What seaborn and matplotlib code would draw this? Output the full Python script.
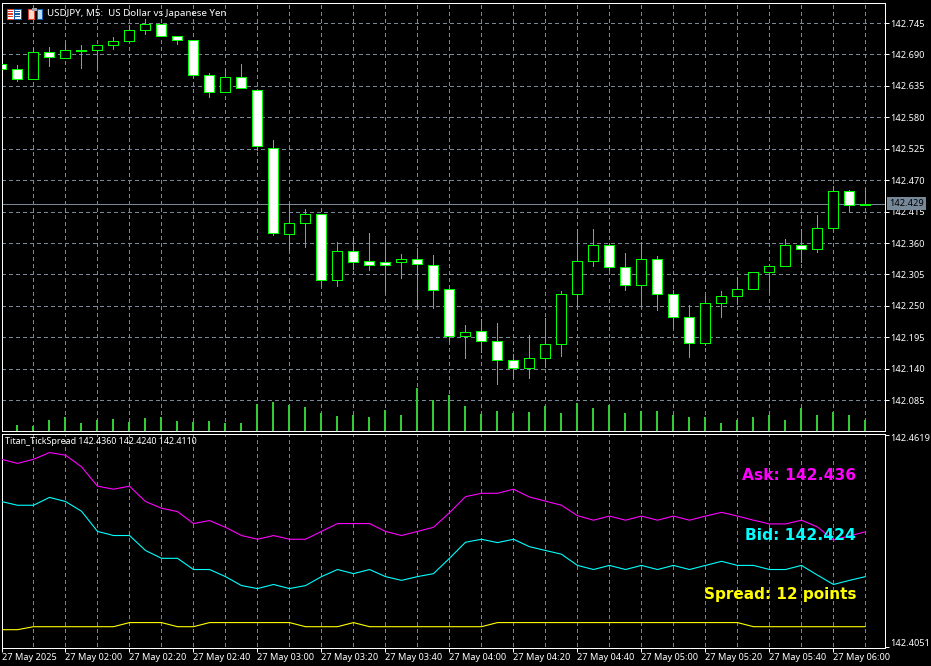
import numpy as np
import matplotlib
matplotlib.use("Agg")
import matplotlib.pyplot as plt
from matplotlib.patches import Rectangle
from matplotlib.transforms import ScaledTranslation
import seaborn as sns

# ---------- data ----------
open_ = [142.674,142.664,142.647,142.694,142.683,142.696,142.697,142.706,142.713,142.732,142.743,142.722,142.715,142.654,142.624,142.650,
         142.627,142.527,142.376,142.395,142.410,142.296,142.346,142.328,142.326,142.326,142.332,142.321,142.279,142.198,142.206,142.188,
         142.155,142.142,142.158,142.183,142.270,142.328,142.356,142.318,142.286,142.332,142.270,142.230,142.185,142.255,142.268,142.279,
         142.309,142.319,142.356,142.349,142.386,142.451,142.426]
high = [142.674,142.672,142.701,142.703,142.708,142.706,142.706,142.720,142.742,142.752,142.743,142.722,142.715,142.658,142.664,142.673,
        142.627,142.540,142.430,142.420,142.410,142.361,142.368,142.378,142.365,142.341,142.351,142.339,142.279,142.217,142.227,142.220,
        142.165,142.199,142.228,142.276,142.385,142.385,142.360,142.342,142.361,142.337,142.277,142.252,142.267,142.276,142.300,142.309,
        142.322,142.367,142.385,142.409,142.460,142.453,142.456]
low = [142.664,142.644,142.647,142.670,142.683,142.667,142.664,142.700,142.713,142.726,142.722,142.708,142.649,142.616,142.624,142.631,
       142.522,142.374,142.347,142.353,142.284,142.284,142.315,142.312,142.274,142.298,142.249,142.247,142.190,142.158,142.169,142.113,
       142.123,142.123,142.143,142.163,142.252,142.320,142.313,142.278,142.249,142.243,142.211,142.161,142.181,142.231,142.253,142.279,
       142.274,142.319,142.326,142.345,142.386,142.416,142.426]
close = [142.664,142.647,142.694,142.685,142.697,142.697,142.706,142.713,142.732,142.743,142.722,142.715,142.654,142.624,142.650,142.631,
         142.529,142.377,142.395,142.410,142.296,142.346,142.327,142.322,142.322,142.332,142.324,142.278,142.198,142.204,142.188,142.155,
         142.142,142.158,142.183,142.270,142.328,142.356,142.318,142.286,142.332,142.270,142.230,142.185,142.255,142.267,142.279,142.309,
         142.319,142.356,142.349,142.386,142.451,142.426,142.429]
tick_volume = [0,60,50,110,140,80,110,120,90,130,140,100,90,100,80,80,
               270,290,260,240,180,150,160,140,210,160,430,310,360,250,170,200,
               180,190,250,180,280,230,260,180,200,200,160,140,140,80,110,140,
               160,110,230,160,190,160,110]
ask = [142.4554,142.4543,142.4554,142.4572,142.4565,142.4534,142.4482,142.4474,142.4482,142.4441,142.4423,142.4414,142.4382,142.4390,142.4372,142.4350,
       142.4340,142.4350,142.4340,142.4340,142.4361,142.4382,142.4382,142.4382,142.4361,142.4350,142.4361,142.4372,142.4411,
       142.4454,142.4463,142.4463,142.4474,142.4453,142.4442,142.4431,142.4403,142.4391,142.4402,142.4391,142.4402,142.4391,142.4402,142.4391,142.4402,
       142.4412,142.4402,142.4391,142.4381,142.4381,142.4391,142.4373,142.4338,142.4349,142.4360]
bid = [142.4441,142.4431,142.4431,142.4452,142.4441,142.4415,142.4361,142.4350,142.4350,142.4310,142.4289,142.4289,142.4259,142.4259,142.4240,142.4216,
       142.4208,142.4219,142.4208,142.4216,142.4240,142.4259,142.4248,142.4259,142.4240,142.4230,142.4240,142.4248,142.4289,
       142.4332,142.4340,142.4331,142.4340,142.4320,142.4310,142.4300,142.4270,142.4259,142.4270,142.4259,142.4270,142.4259,142.4270,142.4259,142.4270,
       142.4281,142.4270,142.4270,142.4259,142.4259,142.4270,142.4244,142.4219,142.4230,142.4240]
spread_line = [142.4098,142.4098,142.4106,142.4106,142.4106,142.4106,142.4106,142.4106,142.4117,142.4117,142.4117,142.4106,142.4106,
               142.4117,142.4117,142.4117,142.4117,142.4117,142.4117,142.4106,142.4106,142.4106,142.4117,142.4106,142.4106,142.4106,
               142.4106,142.4106,142.4106,142.4106,142.4106,142.4117,142.4117,142.4117,142.4117,142.4117,142.4117,142.4117,142.4117,
               142.4117,142.4117,142.4117,142.4117,142.4117,142.4117,142.4117,142.4117,142.4106,142.4106,142.4106,142.4106,142.4106,
               142.4106,142.4106,142.4106]
price_ticks = [142.085,142.140,142.195,142.250,142.305,142.360,142.415,142.470,142.525,142.580,142.635,142.690,142.745]
time_tick_bars = [0,4,8,12,16,20,24,28,32,36,40,44,48,52]
time_labels = ["27 May 2025","27 May 02:00","27 May 02:20","27 May 02:40","27 May 03:00","27 May 03:20","27 May 03:40",
               "27 May 04:00","27 May 04:20","27 May 04:40","27 May 05:00","27 May 05:20","27 May 05:40","27 May 06:00"]
last_price = 142.429
sub_ticks = [142.4051,142.4619]

# ---------- style ----------
W, H = 931, 666
PX = 0.72  # one pixel in points at dpi 100
GRID = "#778899"
LIME = "#00ff00"
sns.set_theme(style="dark", rc={"axes.facecolor": "black", "figure.facecolor": "black",
                                "axes.edgecolor": "white", "text.color": "white",
                                "xtick.color": "white", "ytick.color": "white",
                                "lines.linewidth": PX,
                                "lines.antialiased": False, "patch.antialiased": False})
plt.rcParams["font.family"] = ["Noto Sans", "DejaVu Sans"]
SMALL = 6.6

fig = plt.figure(figsize=(W / 100, H / 100), dpi=100)

def axes_px(x0, y0, x1, y1):
    return fig.add_axes([x0 / W, 1 - y1 / H, (x1 - x0) / W, (y1 - y0) / H])

ax = axes_px(1.5, 2.5, 885, 431)
ax2 = axes_px(1.5, 433.5, 885, 648)

bars = np.arange(len(close))
o, h, l, c = map(np.array, (open_, high, low, close))
xlim = (0.0125, 55.22)

# ---------- top panel ----------
ax.set_axisbelow(True)
ax.hlines(price_ticks, *xlim, color=GRID, lw=PX, linestyles=(0, (3, 3)), zorder=1)
ax.vlines(bars[2::2], 142.0, 143.0, color=GRID, lw=PX, linestyles=(0, (3, 3)), zorder=1)
ax.axhline(last_price, color=GRID, lw=PX, zorder=1.5)
ax.vlines(bars, l, h, color=LIME, lw=PX, zorder=2)
fills = np.where(c >= o, "black", "white")
ax.bar(bars, np.maximum(np.abs(c - o), 0.0006), bottom=np.minimum(o, c), width=0.625,
       color=fills, edgecolor=LIME, linewidth=PX * 1.0, zorder=3)

vol_ax = ax.twinx()
sns.barplot(x=bars - 0.03, y=tick_volume, native_scale=True, width=0.14, color="#32cd32",
            saturation=1, linewidth=0, ax=vol_ax)
vol_ax.set_ylim(0, 4285)
vol_ax.set_yticks([])
vol_ax.set_ylabel("")
vol_ax.grid(False)

ax.set_xlim(*xlim)
vol_ax.set_xlim(*xlim)
ax.set_ylim(142.031, 142.7809)
ax.set_xticks([])
ax.yaxis.tick_right()
ax.set_yticks(price_ticks)
ax.set_yticklabels([f"{v:.3f}" for v in price_ticks], fontsize=SMALL)
ax.tick_params(axis="y", length=2.9, width=PX, pad=1.0, color="white", right=True, left=False)
ax.grid(False)

# current price flag
ax.text(1.0046, last_price, f"{last_price:.3f}", transform=ax.get_yaxis_transform(), color="black",
        fontsize=SMALL, va="center", ha="left", zorder=10, clip_on=False,
        bbox=dict(boxstyle="square,pad=0.25", fc=GRID, ec=GRID, lw=0))

# ---------- bottom panel ----------
ax2.vlines(bars[2::2], 142.3, 142.5, color="#808080", lw=PX, linestyles=(0, (3, 3)), zorder=1)
sns.lineplot(x=bars, y=ask, color="#ff00ff", ax=ax2, zorder=3, errorbar=None)
sns.lineplot(x=bars, y=bid, color="#00ffff", ax=ax2, zorder=3, errorbar=None)
sns.lineplot(x=bars, y=spread_line, color="#ffff00", ax=ax2, zorder=3, errorbar=None)
for line in ax2.get_lines():
    line.set_linewidth(0.8)
    line.set_antialiased(True)
ax2.set_xlim(*xlim)
ax2.set_ylim(142.4049, 142.4623)
ax2.set_ylabel("")
ax2.yaxis.tick_right()
ax2.set_yticks(sub_ticks)
ax2.set_yticklabels([f"{v:.4f}" for v in sub_ticks], fontsize=SMALL)
ax2.set_xticks(time_tick_bars)
ax2.set_xticklabels(time_labels, fontsize=SMALL, ha="left")
ax2.tick_params(axis="y", length=2.9, width=PX, pad=1.0, right=True, left=False)
ax2.tick_params(axis="x", length=2.9, width=PX, pad=1.0, bottom=True)
ax2.grid(False)
for lbl, dy in zip(ax2.get_yticklabels(), (5, -3)):
    lbl.set_transform(lbl.get_transform() + ScaledTranslation(0, dy / 100, fig.dpi_scale_trans))
for a in (ax, ax2):
    for s in a.spines.values():
        s.set_color("white")
        s.set_linewidth(PX)
for s in vol_ax.spines.values():
    s.set_visible(False)

# ---------- text ----------
def txt(x, y, s, **kw):
    fig.text(x / W, 1 - y / H, s, va="center", **kw)

txt(47, 13, "USDJPY, M5:  US Dollar vs Japanese Yen", fontsize=7.0, color="white")
txt(5, 442, "Titan_TickSpread 142.4360 142.4240 142.4110", fontsize=6.4, color="white")
for y, s, col, fs in [(475, "Ask: 142.436", "#ff00ff", 11.2), (535, "Bid: 142.424", "#00ffff", 11.2),
                      (595, "Spread: 12 points", "#ffff00", 11.0)]:
    txt(856, y, s, ha="right", color=col, fontsize=fs, fontweight="bold", family=["DejaVu Sans"], zorder=20)

# ---------- header icons ----------
def rect(x0, y0, x1, y1, fc, ec="none"):
    fig.add_artist(Rectangle((x0 / W, 1 - y1 / H), (x1 - x0) / W, (y1 - y0) / H, transform=fig.transFigure,
                             fc=fc, ec=ec, lw=PX, zorder=15))

rect(6.5, 8.5, 13.5, 18.5, "white", "#e04030")
rect(13.5, 8.5, 20.5, 18.5, "white", "#1060b0")
for yy in (11, 13.5, 16):
    rect(8, yy, 12.5, yy + 1, "#e04030")
    rect(15, yy, 19.5, yy + 1, "#1060b0")
rect(27.5, 8.5, 33.5, 18.5, "#ffd8d0", "#e04030")
rect(36.5, 8.5, 41.5, 18.5, "#b8dcf8", "#1060b0")
rect(32, 8, 37, 11, "#a0a0a0")

fig.savefig("out.png", dpi=100, facecolor="black")
